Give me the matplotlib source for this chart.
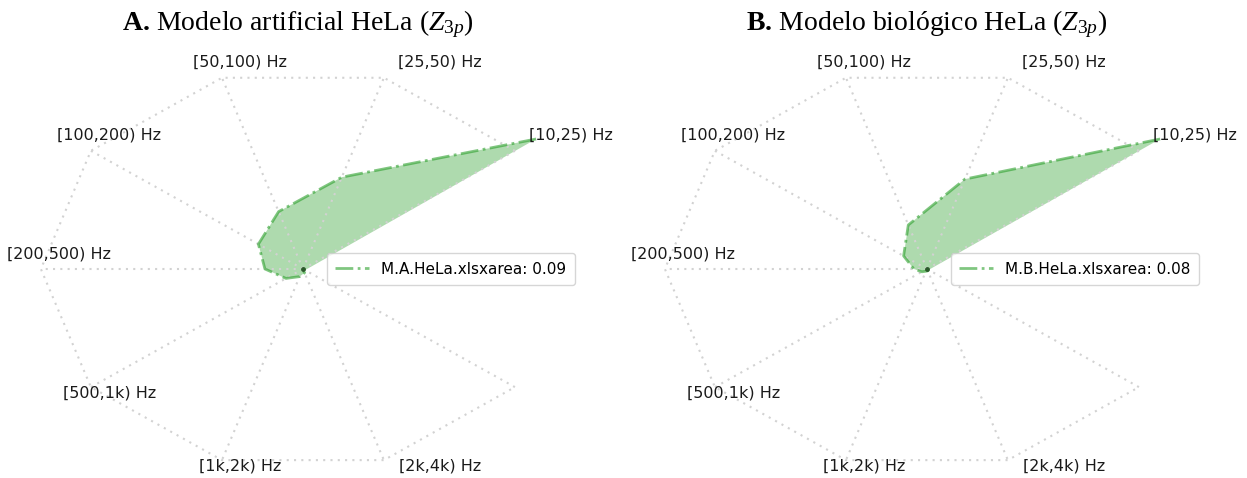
import numpy as np
import matplotlib.pyplot as plt

plt.rcParams['mathtext.fontset'] = 'custom'
plt.rcParams['mathtext.rm'] = 'Liberation Serif'
plt.rcParams['mathtext.it'] = 'Liberation Serif:italic'
plt.rcParams['mathtext.bf'] = 'Liberation Serif:bold'

# frequency bands, counter-clockwise starting at 36 degrees
categories = ["[10,25) Hz", "[25,50) Hz", "[50,100) Hz", "[100,200) Hz",
              "[200,500) Hz", "[500,1k) Hz", "[1k,2k) Hz", "[2k,4k) Hz", ""]
angles_deg = [36, 72, 108, 144, 180, 216, 252, 288, 324]

# normalised values
values_a = [1.10, 0.48, 0.30, 0.21, 0.145, 0.08, 0.04, 0.02, 0.01]
values_b = [1.10, 0.47, 0.23, 0.11, 0.05, 0.024, 0.012, 0.01, 0.008]

legend_a = "M.A.HeLa.xlsxarea: 0.09"
legend_b = "M.B.HeLa.xlsxarea: 0.08"
title_a = r"$\mathbf{A.}\,$Modelo artificial HeLa ($Z_{3p}$)"
title_b = r"$\mathbf{B.}\,$Modelo biológico HeLa ($Z_{3p}$)"

green = "#2ca02c"
grid_color = "#d2d2d2"


def radar_panel(ax, values, label):
    theta = np.deg2rad(angles_deg)

    # spokes and open frame
    for t in theta:
        ax.plot([0, np.cos(t)], [0, np.sin(t)], color=grid_color,
                lw=1.5, dashes=(1, 2.5))
    ax.plot(np.cos(theta), np.sin(theta), color=grid_color,
            lw=1.5, dashes=(1, 2.5))

    # data polygon
    r = np.array(values)
    x = r * np.cos(theta)
    y = r * np.sin(theta)
    ax.fill(x, y, color=green, alpha=0.38, lw=0)
    ax.plot(x, y, ls="-.", color=green, alpha=0.6, lw=2, label=label)
    ax.plot([0], [0], "o", color="#2a5a2a", ms=2.5)

    # band labels
    for cat, t in zip(categories, theta):
        dx = 0.215 if np.cos(t) > 0 else 0.07
        dy = 0.08 if np.sin(t) > 0.01 else (0.075 if abs(np.sin(t)) < 0.01 else -0.03)
        ax.text(np.cos(t) + dx, np.sin(t) + dy, cat, ha="center", va="center",
                fontsize=11.5, color="#1a1a1a")

    ax.legend(loc="center left", bbox_to_anchor=(0.515, 0.477), fontsize=11,
              handlelength=2.2, borderpad=0.55)

    ax.set_xlim(-1.156, 1.21)
    ax.set_ylim(-1.04, 1.139)
    ax.axis("off")


fig = plt.figure(figsize=(12.47, 4.78), dpi=100)
ax1 = fig.add_axes([0, 0, 620 / 1247, 438 / 478])
ax2 = fig.add_axes([624 / 1247, 0, 620 / 1247, 438 / 478])

radar_panel(ax1, values_a, legend_a)
radar_panel(ax2, values_b, legend_b)

fig.text(298 / 1247, 1 - 24 / 478, title_a, ha="center", va="center",
         fontsize=20, family="Liberation Serif")
fig.text(927 / 1247, 1 - 24 / 478, title_b, ha="center", va="center",
         fontsize=20, family="Liberation Serif")

plt.savefig("out.png", dpi=100)
plt.close()
